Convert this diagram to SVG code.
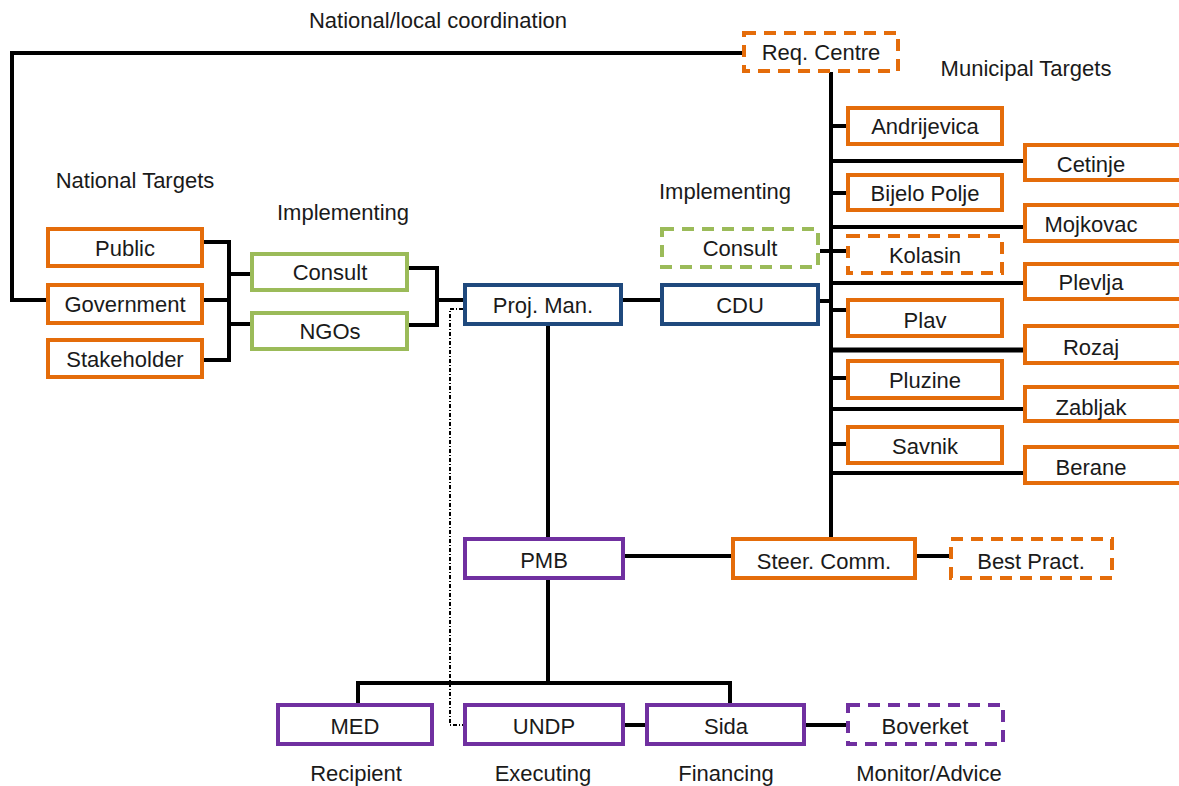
<svg xmlns="http://www.w3.org/2000/svg" width="1179" height="786" viewBox="0 0 1179 786">
<style>
text{font-family:"Liberation Sans",Arial,sans-serif;font-size:22px;fill:#1a1a1a;text-anchor:middle}
.b{fill:#fff;stroke-width:4}
.o{stroke:#E46C0A}
.g{stroke:#9BBB59}
.u{stroke:#1F497D}
.p{stroke:#7030A0}
.d{stroke-dasharray:12 8}
.c line,.c polyline{stroke:#000;stroke-width:4;fill:none}
.c .dot{stroke-width:2;stroke-dasharray:4 2 1 2}
</style>
<rect width="1179" height="786" fill="#fff"/>
<g id="labels">
<text x="438" y="28">National/local coordination</text>
<text x="135" y="188">National Targets</text>
<text x="343" y="220">Implementing</text>
<text x="725" y="199">Implementing</text>
<text x="1026" y="76">Municipal Targets</text>
<text x="356" y="781">Recipient</text>
<text x="543" y="781">Executing</text>
<text x="726" y="781">Financing</text>
<text x="929" y="781">Monitor/Advice</text>
</g>
<g class="c" id="connectors">
<polyline points="742,53 12,53 12,300 46,300"/>
<polyline points="204,242 229,242 229,360 204,360"/>
<line x1="204" y1="300" x2="229" y2="300"/>
<line x1="229" y1="274" x2="250" y2="274"/>
<line x1="229" y1="324" x2="250" y2="324"/>
<polyline points="409,268 437,268 437,325 409,325"/>
<line x1="437" y1="300" x2="463" y2="300"/>
<line x1="623" y1="300" x2="660" y2="300"/>
<line x1="820" y1="301" x2="831" y2="301"/>
<line x1="820" y1="251" x2="831" y2="251"/>
<line x1="831" y1="72" x2="831" y2="538"/>
<line x1="831" y1="126" x2="846" y2="126"/>
<line x1="831" y1="193" x2="846" y2="193"/>
<line x1="831" y1="251" x2="846" y2="251"/>
<line x1="831" y1="310" x2="846" y2="310"/>
<line x1="831" y1="378" x2="846" y2="378"/>
<line x1="831" y1="444" x2="846" y2="444"/>
<line x1="831" y1="161" x2="1023" y2="161"/>
<line x1="831" y1="227" x2="1023" y2="227"/>
<line x1="831" y1="283" x2="1023" y2="283"/>
<line x1="831" y1="350" x2="1023" y2="350" style="stroke-width:5"/>
<line x1="831" y1="409" x2="1023" y2="409"/>
<line x1="831" y1="473" x2="1023" y2="473"/>
<line x1="548" y1="326" x2="548" y2="537"/>
<line x1="625" y1="556" x2="731" y2="556"/>
<line x1="917" y1="556" x2="949" y2="556"/>
<line x1="548" y1="580" x2="548" y2="683"/>
<polyline points="358,703 358,683 730,683 730,703"/>
<line x1="625" y1="725" x2="645" y2="725"/>
<line x1="806" y1="725" x2="846" y2="725"/>
<polyline class="dot" points="463,309 450,309 450,725 463,725"/>
</g>
<g id="reg-centre"><rect class="b o d" x="744" y="33" width="154" height="38"/><text x="821" y="60">Req. Centre</text></g>
<g id="public"><rect class="b o" x="48" y="229" width="154" height="37"/><text x="125" y="256">Public</text></g>
<g id="government"><rect class="b o" x="48" y="285" width="154" height="38"/><text x="125" y="312">Government</text></g>
<g id="stakeholder"><rect class="b o" x="48" y="340" width="154" height="37"/><text x="125" y="367">Stakeholder</text></g>
<g id="consult-left"><rect class="b g" x="252" y="254" width="155" height="36"/><text x="330" y="280">Consult</text></g>
<g id="ngos"><rect class="b g" x="252" y="313" width="155" height="36"/><text x="330" y="339">NGOs</text></g>
<g id="proj-man"><rect class="b u" x="465" y="285" width="156" height="39"/><text x="543" y="313">Proj. Man.</text></g>
<g id="cdu"><rect class="b u" x="662" y="285" width="156" height="39"/><text x="740" y="313">CDU</text></g>
<g id="consult-right"><rect class="b g d" x="662" y="229" width="156" height="38"/><text x="740" y="256">Consult</text></g>
<g id="andrijevica"><rect class="b o" x="848" y="108" width="154" height="36"/><text x="925" y="134">Andrijevica</text></g>
<g id="bijelo-polje"><rect class="b o" x="848" y="175" width="154" height="35"/><text x="925" y="201">Bijelo Polje</text></g>
<g id="kolasin"><rect class="b o d" x="848" y="236" width="154" height="37"/><text x="925" y="263">Kolasin</text></g>
<g id="plav"><rect class="b o" x="848" y="300" width="154" height="36"/><text x="925" y="328">Plav</text></g>
<g id="pluzine"><rect class="b o" x="848" y="361" width="154" height="37"/><text x="925" y="388">Pluzine</text></g>
<g id="savnik"><rect class="b o" x="848" y="427" width="154" height="36"/><text x="925" y="454">Savnik</text></g>
<g id="cetinje"><rect class="b o" x="1025" y="145" width="162" height="35"/><text x="1091" y="172">Cetinje</text></g>
<g id="mojkovac"><rect class="b o" x="1025" y="205" width="162" height="36"/><text x="1091" y="232">Mojkovac</text></g>
<g id="plevlja"><rect class="b o" x="1025" y="264" width="162" height="35"/><text x="1091" y="290">Plevlja</text></g>
<g id="rozaj"><rect class="b o" x="1025" y="326" width="162" height="37"/><text x="1091" y="355">Rozaj</text></g>
<g id="zabljak"><rect class="b o" x="1025" y="387" width="162" height="34"/><text x="1091" y="415">Zabljak</text></g>
<g id="berane"><rect class="b o" x="1025" y="447" width="162" height="36"/><text x="1091" y="475">Berane</text></g>
<g id="pmb"><rect class="b p" x="465" y="539" width="158" height="39"/><text x="544" y="568">PMB</text></g>
<g id="steer-comm"><rect class="b o" x="733" y="539" width="182" height="39"/><text x="824" y="569">Steer. Comm.</text></g>
<g id="best-pract"><rect class="b o d" x="951" y="539" width="161" height="39"/><text x="1031" y="569">Best Pract.</text></g>
<g id="med"><rect class="b p" x="278" y="705" width="154" height="39"/><text x="355" y="734">MED</text></g>
<g id="undp"><rect class="b p" x="465" y="705" width="158" height="39"/><text x="544" y="734">UNDP</text></g>
<g id="sida"><rect class="b p" x="647" y="705" width="157" height="39"/><text x="726" y="734">Sida</text></g>
<g id="boverket"><rect class="b p d" x="848" y="705" width="155" height="39"/><text x="925" y="734">Boverket</text></g>
</svg>
